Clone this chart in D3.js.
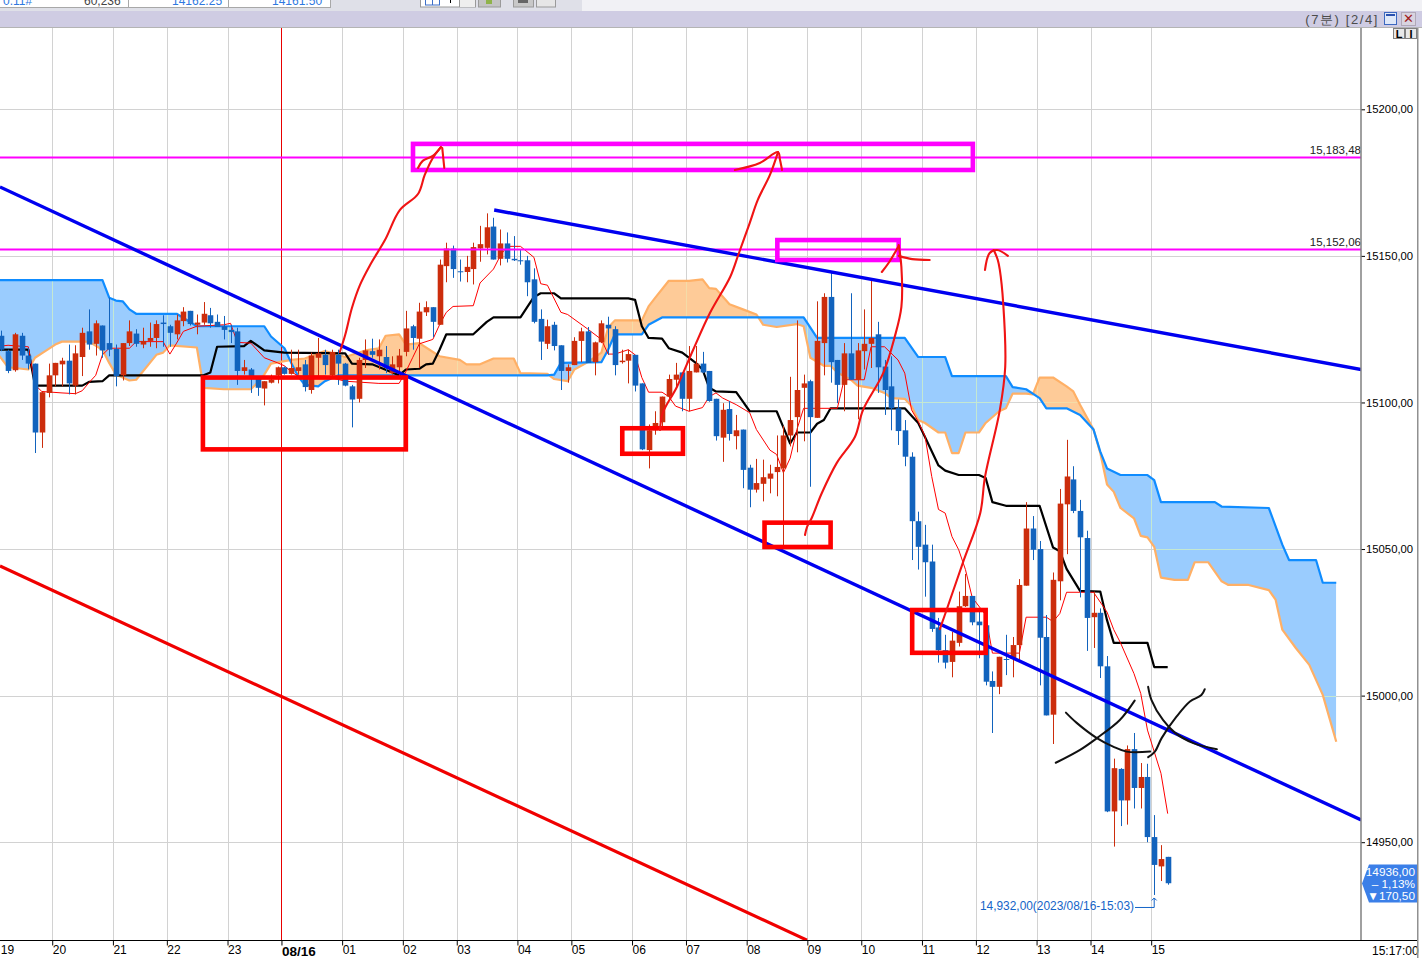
<!DOCTYPE html>
<html><head><meta charset="utf-8">
<script src="https://cdn.jsdelivr.net/npm/d3@7"></script>
<style>html,body{margin:0;padding:0;background:#fff;overflow:hidden}svg{display:block}text{font-family:"Liberation Sans",sans-serif}</style>
</head><body><svg id="c" width="1422" height="958"></svg>
<script>
const opens=[15122.75,15117.5,15111,15122.75,15116,15113.25,15089.75,15103.25,15109.25,15113,15114.25,15105.75,15115.5,15124.25,15120,15126.25,15120.25,15118.25,15109.25,15120.25,15123.5,15119.75,15121,15122,15127.25,15126,15123.25,15127.75,15131.25,15126.5,15127.25,15129.75,15127.5,15126,15124.75,15124.25,15110.75,15111.25,15108,15104.75,15106.75,15109.25,15112,15109.75,15110.75,15113,15104.25,15115.25,15116.25,15109.25,15116.25,15113.25,15105.5,15101.25,15114.5,15117.5,15115.75,15115.5,15110,15112,15117.25,15126,15121.75,15130.75,15132.5,15126.5,15146.5,15152.5,15144.75,15144.5,15145.5,15152.5,15152.75,15160,15149,15154.25,15149,15148.5,15148.5,15142,15128.5,15120,15126.5,15119.5,15110.75,15112.75,15121,15124.25,15113.75,15120.5,15126.5,15125,15113.75,15114.25,15116.25,15106.5,15083.75,15090.5,15093.25,15102,15107.75,15110.25,15101.25,15110.25,15113.25,15110.75,15101.25,15088,15097.75,15088.5,15090.75,15077.75,15070.25,15072.25,15074,15076.25,15077.5,15088.75,15095,15105,15107.25,15094.75,15120.25,15136,15114.5,15106,15116.75,15107.75,15117.5,15120,15123.25,15112.25,15105.5,15098,15090.5,15081.5,15059.5,15051.5,15045.75,15023.25,15015.5,15011.5,15018,15030.5,15034,15025.25,15024,15005,15003,15012.5,15012.5,15017.25,15037.5,15057,15050,15020,14993.5,15039,15065.25,15073.75,15063,15053.75,15026.75,15028.25,15010,14960.5,14975,14964.25,14981.75,14968.5,14972.25,14951.75,14941.75,14945];
const highs=[15124.5,15118,15123.75,15123.75,15118.5,15113.25,15103.75,15113.25,15113.5,15115.25,15119.75,15119.5,15125.5,15131.75,15128,15126.25,15135.75,15119.75,15120.25,15128,15125,15125.5,15127.25,15128,15129.75,15126.5,15130,15132.5,15131.25,15130,15134.25,15132.25,15130,15129.5,15126.5,15125.5,15114.5,15111.75,15109,15107.25,15109.5,15112.25,15112.25,15118,15118,15114.5,15117,15122,15118,15118,15118,15113.5,15106,15115.25,15121.5,15121.75,15121.5,15119.25,15115.75,15118.25,15131.25,15126.5,15134,15134.5,15132.5,15148.75,15154.5,15153.5,15148.75,15150,15154.5,15160.25,15164.5,15163,15159,15158,15156.75,15152.25,15150,15145.75,15131.75,15128.25,15127.5,15119.5,15113,15122.25,15125.5,15125.75,15120.75,15128,15129.25,15126,15118,15118,15116.25,15106.5,15092.5,15097,15102,15109.5,15113.5,15110.25,15119.25,15119.25,15117.25,15110.75,15101.25,15099.75,15100.5,15095.75,15090.75,15078.75,15080.75,15080.5,15078.75,15088.75,15092,15108.75,15128,15109.5,15107.75,15134.5,15137.25,15144.75,15114.5,15120.25,15137.25,15120.25,15131.75,15141.75,15127.5,15114.5,15115.75,15101,15094,15083,15062.75,15058.25,15051.5,15026.5,15020.75,15021.75,15035.5,15041.5,15034,15029.25,15024,15008.25,15013.25,15020.75,15020,15039.75,15066,15061.25,15052.75,15027.5,15042,15070.5,15087.25,15078.25,15066.75,15056.25,15035.5,15029.75,15013.5,14978.5,14975.25,14983,14987.25,14977,14976.75,14959.25,14949,14945];
const lows=[15117.5,15110,15110.5,15114.5,15111.25,15082.75,15084.5,15101.75,15105.5,15105.5,15102.75,15102.75,15109,15118,15116,15115.25,15115.75,15105.5,15107.5,15119.25,15119,15118.5,15119,15118.5,15119,15119,15121.5,15126,15126.25,15123.25,15126.5,15125.5,15125.75,15121.5,15120.25,15106,15109.5,15103.25,15102.25,15099,15106.5,15106.5,15109.5,15109.5,15109.5,15103.75,15103,15109,15109.5,15109,15106,15105.5,15091.5,15100,15111.75,15115.25,15111.25,15110,15109.5,15109,15115.75,15118,15111.75,15129.5,15122.25,15126.5,15141,15142.5,15141.25,15141,15140.25,15148,15150.5,15148.75,15146.75,15147.75,15148.25,15147,15136.25,15127,15114.5,15118.25,15117.75,15104.25,15106.75,15112.75,15113.75,15113.5,15109.25,15120.25,15116.25,15109.25,15113.25,15106.5,15103.75,15083.75,15077.5,15089,15090.75,15101,15105.25,15097,15097,15110.25,15110,15100.25,15087,15079.75,15087,15084,15070.75,15064.25,15069.25,15066.25,15069,15068,15051,15085,15083,15086.75,15071.25,15094.75,15109.25,15106.75,15099.75,15097,15107.75,15094.25,15111.25,15111.75,15103.25,15095.75,15090.5,15085.5,15078.25,15046.25,15043,15033.75,15021.75,15011.25,15009.25,15006.25,15016.75,15030.25,15024,15012.75,15003.5,14987.25,15000.5,15007,15006.25,15012.25,15037.5,15046.25,15003.5,14993.25,14983.5,15032.5,15048.25,15062.25,15033.5,15015.25,15016.25,15006,14960.25,14948.5,14955.5,14956,14961.5,14961.5,14950,14932,14936.75,14935.5];
const closes=[15118,15110.75,15123.25,15116,15113.25,15089.75,15103.5,15109.25,15113.5,15114.25,15106.5,15116.75,15123.75,15119.75,15127,15117.75,15118,15109,15120.25,15124.25,15120,15121,15122,15126.75,15126.75,15123.75,15128,15131,15126.75,15127.25,15130.25,15127,15125.75,15124.75,15124,15110.75,15112,15109,15105,15107.25,15107.75,15112,15109.75,15111.75,15112,15105.25,15116,15116.75,15112.75,15117.25,15113.25,15105.75,15101,15114.5,15117.75,15116.25,15118,15111.75,15113,15116,15125.25,15122,15131,15132.5,15127.5,15147,15152.5,15145.5,15144.5,15146.25,15153,15154,15159.75,15148.75,15154.25,15149,15148.5,15148.25,15141,15127.5,15120.75,15126,15119.25,15110.75,15112,15121,15124.25,15113.5,15120.5,15127,15125.25,15112.75,15114.25,15116.5,15105.75,15084,15090.5,15093,15102,15108,15109.5,15101.25,15110.75,15113.25,15110.25,15100.5,15088.5,15097.5,15089.25,15090.5,15077,15070.25,15072.5,15074.5,15075.75,15078,15088.75,15094,15104.25,15106.5,15095,15121,15136,15113.75,15106,15116.75,15107.75,15117.75,15120,15122,15112,15104.25,15098,15090.25,15081.5,15059.5,15050.75,15045.5,15022.75,15015.5,15011.25,15018.75,15030.5,15034,15025,15024,15004.75,15003,15013.25,15012.25,15017.25,15037.75,15057,15049.75,15019.75,14993.25,15039.5,15065.5,15074.75,15063,15054,15026.5,15028.25,15010,14960.5,14975.25,14964.25,14981.75,14968.5,14972.25,14951.75,14942.25,14944.25,14936];

const kijunBars=[-1,4,5,12,13,15,16,30,31,32,36,37,39,42,51,52,55,58,59,60,62,63,64,65,66,70,72,73,77,79,80,82,83,93,94,95,96,98,99,101,103,104,105,106,109,110,111,115,116,117,118,120,121,122,123,134,135,136,137,139,140,142,145,146,147,149,154,156,157,158,160,163,164,165,170,171,173];
const kijunValues=[15118,15118,15105.75,15105.75,15107,15107.25,15109.25,15109.25,15110.25,15119,15119.25,15121,15117.75,15117,15116.75,15113.25,15113,15110.25,15109.25,15111.25,15111.5,15113,15113.25,15118,15123.25,15123.25,15127.5,15129,15129,15136,15137.25,15137.25,15135.5,15135.5,15135,15126,15122,15121.75,15118.5,15117,15113.5,15111.25,15105,15103.75,15103.5,15100.25,15097,15097,15091.5,15086,15089.75,15089.75,15092.75,15094,15098,15098,15095.5,15093,15088.25,15078.5,15076.75,15075.25,15075.25,15074.25,15066,15064.75,15064.75,15050.5,15049.25,15043.25,15035.75,15035.5,15025.75,15018,15018,15009.75,15009.75];
const tenkanBars=[-1,1,4,5,6,9,11,12,13,14,15,16,19,20,24,25,26,27,29,33,34,35,37,39,41,42,43,44,48,51,56,59,60,61,62,64,65,66,67,70,71,73,74,75,77,79,80,81,83,84,87,89,90,91,93,94,95,96,98,99,100,102,104,105,106,107,109,111,112,114,115,116,117,118,119,124,125,128,129,131,133,134,135,136,137,138,139,140,141,142,143,144,146,147,151,152,155,156,157,158,162,164,165,166,168,169,170,172,173];
const tenkanValues=[15119,15119.5,15119,15106,15103.75,15103.25,15103,15104,15106.75,15109.25,15116.25,15118.5,15118.5,15120.75,15120.75,15116.5,15120.25,15124.25,15126,15126.5,15127,15120.5,15120.25,15115.25,15113.5,15112.5,15110.5,15109,15109,15107.25,15106.5,15106.5,15110.5,15115.25,15120,15121.5,15126.5,15130.75,15132.75,15133,15140.75,15145.5,15150,15153.25,15153.25,15149.5,15140.5,15140,15130.75,15130,15125,15121.5,15116.5,15116.5,15118,15116.25,15108.5,15103.5,15103.5,15102,15098.75,15097,15098.25,15102,15103.25,15101.5,15099.25,15096.5,15090.75,15083.75,15082.25,15076,15081,15090.75,15098,15098,15107.75,15107.75,15119,15119,15114.5,15110,15097.5,15093.5,15088.5,15074.75,15063.5,15062.25,15054.25,15049.75,15043,15033.5,15027.5,15014.5,15014.5,15026.75,15026.75,15025.25,15028,15035.25,15035.25,15028.5,15022.5,15018,15007.5,15000.75,14988.25,14973.5,14959.75];
const spanABars=[-1,15,16,17,18,19,20,26,29,39,40,42,43,44,45,47,48,50,81,82,83,89,90,91,95,96,98,119,121,134,136,140,141,149,150,152,154,155,158,160,162,163,164,166,170,171,172,180,181,188,190,191,195,196,198];
const spanAValues=[15141.75,15141.75,15135.75,15134.75,15134.5,15131.75,15130.25,15130.25,15126,15126,15122.5,15118.5,15113.5,15109,15106,15105.5,15107.25,15109.25,15109.25,15109.5,15113.5,15113.75,15118,15123.25,15123.25,15126.5,15129,15129,15122,15122,15115.5,15115.5,15109,15109,15105.25,15104.5,15101.5,15098,15098,15095.75,15090.75,15083.25,15077.5,15075.25,15075.25,15073.5,15066,15066,15064.5,15064,15051.5,15046.25,15046.25,15038.5,15038.5];
const spanBBars=[-1,1,4,5,6,8,9,13,15,16,17,19,20,23,24,25,29,30,33,37,38,39,40,43,45,48,51,54,56,57,59,60,62,65,68,69,71,73,76,77,81,82,84,85,87,89,90,91,95,96,97,99,102,104,105,106,108,110,112,113,115,118,119,120,122,123,124,126,127,129,131,132,134,135,136,137,139,140,141,142,143,145,146,148,149,150,152,153,154,156,158,159,160,162,163,164,165,166,168,169,170,171,172,174,176,177,179,181,182,185,188,189,190,192,194,196,198];
const spanBValues=[15118,15112,15111.25,15115.25,15116.75,15119.75,15120.75,15120.75,15118,15113.5,15109.5,15107.5,15107.75,15116.25,15117,15119.5,15118.75,15105,15104.5,15104.5,15106.75,15109.5,15113.25,15114.5,15115,15117.5,15115.5,15117.75,15118.5,15122.75,15123.25,15119.75,15120.25,15115.75,15114.5,15113,15113,15115,15115,15110,15109.75,15108,15107.25,15111.25,15113.75,15117,15125.5,15128,15128,15132.75,15135.75,15141.5,15141.5,15142,15139,15138.75,15133.5,15131.75,15130,15126.5,15125.75,15126.75,15126,15115.25,15112.5,15112.5,15110.25,15107.75,15105.75,15105,15103.25,15101.5,15101.25,15098.75,15094,15093,15089.75,15089.75,15082.75,15082.75,15089.75,15089.75,15093,15097,15098,15103,15103,15102.75,15108.5,15108.5,15105.5,15103.75,15099.25,15090.75,15082.75,15072,15069.5,15064,15060.5,15054.5,15054,15050.75,15040.25,15039.5,15039.5,15045.5,15045.5,15039,15037.75,15037.75,15036,15032.75,15022.5,15016.25,15010.5,15000.25,14984.25];

const priceTicks=[15200,15150,15100,15050,15000,14950];
const timeTickBars=[0,8,17,25,34,42,51,60,68,77,85,94,102,111,120,128,137,145,154,162,171];
const timeTickLabels=["19","20","21","22","23","08/16","01","02","03","04","05","06","07","08","09","10","11","12","13","14","15"];
const levelValues=[15183.48,15152.06];
const levelLabels=["15,183,48","15,152,06"];
const lastClose=14936, lastLow=14932;

// trendlines as [bar, price] endpoints
const blueTrends=[[[-0.2,15173.5],[201.7,14957.6]],[[73.1,15165.65],[201.7,15111.25]]];
const redTrend=[[-0.2,15044.2],[119.5,14916.6]];
// boxes as [bar0, bar1, priceTop, priceBottom]
const redBoxes=[[29.9,60,15108.5,15084],[92.1,101.1,15091.2,15082.5],[113.2,123,15059,15050.7],[135.1,146,15029.2,15014.6]];
const magentaBoxes=[[61.06,144.1,15188.2,15179.3],[115.1,133.1,15155.4,15148.6]];
// hand-drawn pen strokes as [bar, price]
const redPen=[
[[50.2,15117.2],[51,15123],[52,15132.2],[53.2,15140.1],[54.7,15146.9],[56.9,15155.4],[59.1,15165.6],[61.8,15171.1],[62.8,15177.6],[64,15183.4],[65.2,15187.1]],
[[61.8,15180],[62.5,15182.4],[64,15184.1],[65.2,15187.1]],
[[65.4,15186.8],[65.7,15180]],
[[97.7,15090.6],[98.1,15096.4],[100.2,15105.3],[102.6,15117.9],[105.1,15130.5],[108.1,15142.8],[109.3,15150.3],[111,15161.2],[112.2,15169.1],[114,15177.6],[115.2,15185.4]],
[[108.8,15179.3],[112.5,15181.7],[115.2,15185.4],[115.5,15182.7],[115.8,15179.3]],
[[119.2,15054.8],[119.5,15057.5],[120.2,15060.6],[121.7,15069.1],[123.9,15079.3],[126.6,15088.2],[127.8,15097.4],[130.8,15110],[132.5,15122.3],[133.5,15132.6],[133.5,15146.2],[133.1,15153.7]],
[[130.6,15144.5],[131.7,15147.9],[133.1,15153.4]],
[[133.1,15150],[135.1,15148.9],[137.7,15148.6]],
[[139.2,15022.7],[140.2,15029.2],[142.6,15045.2],[145.2,15062.3],[145.9,15074.6],[148.1,15097.4],[148.9,15112.1],[148.6,15133.9],[148.1,15145.2],[147.8,15148.6],[147.2,15152]],
[[145.9,15145.2],[146.6,15151],[147.7,15152],[149.3,15150]]
];
const blackPen=[
[[157.9,14994.2],[159.5,14990.7],[162.5,14985.5],[164.9,14982.6],[166.9,14980.9],[170.4,14980.9]],
[[156.4,14977.1],[160,14981.5],[162.5,14985.5],[165.9,14991.7],[168.1,14998.3]],
[[170.1,15003],[170.6,14998.5],[172.3,14991.7],[174.1,14987.3],[176.8,14983.8],[180.3,14981.7]],
[[170.1,14979],[171.1,14980.9],[172.1,14985.5],[174.3,14992.8],[176.3,14998],[178,15000.2],[178.5,15002.2]]
];

const W=1422,H=958,plotR=1361,plotT=27,plotB=940;
const x=d3.scaleLinear().domain([0,173]).range([1.33,1167.7]);
const y=d3.scaleLinear().domain([15200,14950]).range([109.3,842.2]);
const svg=d3.select("#c");
const defs=svg.append("defs");
defs.append("clipPath").attr("id","plot").append("rect").attr("x",0).attr("y",plotT).attr("width",plotR).attr("height",plotB-plotT);
const zipS=(b,v)=>b.map((d,i)=>[d,v[i]]);
const spanA=zipS(spanABars,spanAValues), spanB=zipS(spanBBars,spanBValues);
const areaTo=(lim)=>d3.area().x(d=>x(d[0])).y0(d=>y(d[1])).y1(lim);
[["belowA",spanA,plotB],["aboveA",spanA,plotT],["belowB",spanB,plotB],["aboveB",spanB,plotT]].forEach(([id,pts,lim])=>{
  defs.append("clipPath").attr("id",id).append("path").attr("d",areaTo(lim)(pts));
});
const gridX=timeTickBars.map(b=>Math.round(x(b-0.45))+0.5).filter(v=>v>0);
function drawGrid(sel,color){
  const g=sel.append("g").attr("stroke",color).attr("stroke-width",1);
  g.selectAll("line.h").data(priceTicks).join("line").attr("x1",0).attr("x2",plotR).attr("y1",d=>Math.round(y(d))+0.5).attr("y2",d=>Math.round(y(d))+0.5);
  g.selectAll("line.v").data(gridX).join("line").attr("x1",d=>d).attr("x2",d=>d).attr("y1",plotT).attr("y2",plotB);
}
svg.append("rect").attr("width",W).attr("height",H).attr("fill","#fff");
drawGrid(svg.append("g"),"#d2d2d2");
// cloud
function cloud(c1,c2,fill,gridColor){
  const g=svg.append("g").attr("clip-path",`url(#${c1})`).append("g").attr("clip-path",`url(#${c2})`);
  g.append("rect").attr("x",0).attr("y",plotT).attr("width",plotR).attr("height",plotB-plotT).attr("fill",fill);
  drawGrid(g,gridColor);
}
cloud("belowA","aboveB","#9accfe","#c4e8d2");
cloud("belowB","aboveA","#fecb98","#f4dca8");
// cursor line
svg.append("line").attr("x1",281.5).attr("x2",281.5).attr("y1",plotT).attr("y2",plotB).attr("stroke","#e80000").attr("stroke-width",1);
const plot=svg.append("g").attr("clip-path","url(#plot)");
const line=d3.line().x(d=>x(d[0])).y(d=>y(d[1]));
const addLine=(pts,color,w)=>plot.append("path").attr("d",line(pts)).attr("fill","none").attr("stroke",color).attr("stroke-width",w).attr("stroke-linejoin","round");
addLine(spanB,"#ffb066",2.2);
addLine(spanA,"#0f8cff",2.2);
addLine(zipS(kijunBars,kijunValues),"#000",2.2);
addLine(zipS(tenkanBars,tenkanValues),"#f00",1);
// candles
const idx=d3.range(opens.length);
const colorOf=i=>closes[i]>=opens[i]?"#cc2d0c":"#1263bd";
plot.selectAll("line.wick").data(idx).join("line").attr("class","wick")
 .attr("x1",i=>Math.round(x(i))+0.5).attr("x2",i=>Math.round(x(i))+0.5)
 .attr("y1",i=>y(highs[i])).attr("y2",i=>y(lows[i])).attr("stroke",colorOf).attr("stroke-width",1);
plot.selectAll("rect.body").data(idx).join("rect").attr("class","body")
 .attr("x",i=>Math.round(x(i))-2.3).attr("width",5.6)
 .attr("y",i=>Math.min(y(opens[i]),y(closes[i])))
 .attr("height",i=>Math.max(1,Math.abs(y(opens[i])-y(closes[i]))))
 .attr("fill",colorOf);
// level lines
levelValues.forEach((v,i)=>{
  const yy=Math.round(y(v))-0.5;
  plot.append("line").attr("x1",0).attr("x2",plotR).attr("y1",yy).attr("y2",yy).attr("stroke","#ff00ff").attr("stroke-width",2);
  svg.append("text").attr("x",plotR).attr("y",yy-3.5).attr("text-anchor","end").attr("font-size",11.5).attr("fill","#222").text(levelLabels[i]);
});
// trend lines
blueTrends.forEach(t=>addLine(t,"#0000f0",3.4));
addLine(redTrend,"#f00000",3.2);
// boxes
const box=(b,c,w)=>plot.append("rect").attr("x",x(b[0])).attr("width",x(b[1])-x(b[0])).attr("y",y(b[2])).attr("height",y(b[3])-y(b[2])).attr("fill","none").attr("stroke",c).attr("stroke-width",w);
redBoxes.forEach(b=>box(b,"#ff0000",4.6));
magentaBoxes.forEach(b=>box(b,"#ff00ff",4.6));
// pen strokes
const pen=d3.line().x(d=>x(d[0])).y(d=>y(d[1])).curve(d3.curveCatmullRom);
const addPen=(pts,c,w)=>plot.append("path").attr("d",pen(pts)).attr("fill","none").attr("stroke",c).attr("stroke-width",w).attr("stroke-linecap","round");
redPen.forEach(p=>addPen(p,"#f01414",2.1));
blackPen.forEach(p=>addPen(p,"#111",2));
// axes
const yAxis=d3.axisRight(y).tickValues(priceTicks).tickSize(4).tickPadding(1).tickFormat(d=>d+",00");
const ya=svg.append("g").attr("transform",`translate(${plotR},0)`).call(yAxis);
ya.select(".domain").remove();
ya.selectAll("text").attr("font-size",11.3).attr("font-family","Liberation Sans").attr("fill","#000");
ya.selectAll("line").attr("stroke","#000");
svg.append("line").attr("x1",plotR).attr("x2",plotR).attr("y1",plotT).attr("y2",plotB).attr("stroke","#808080").attr("stroke-width",1.5);
const xAxis=d3.axisBottom(x).tickValues(timeTickBars.map(b=>b-0.45)).tickSize(5).tickFormat((d,i)=>timeTickLabels[i]);
const xa=svg.append("g").attr("transform",`translate(0,${plotB+0.5})`).call(xAxis);
xa.select(".domain").remove();
xa.selectAll("line").attr("stroke","#000");
xa.selectAll("text").attr("text-anchor","start").attr("dx",(d,i)=>i===0?2:0).attr("y",3).attr("dy","0.9em").attr("font-family","Liberation Sans").attr("fill","#000")
 .attr("font-size",(d,i)=>timeTickLabels[i]==="08/16"?13.5:12)
 .attr("font-weight",(d,i)=>timeTickLabels[i]==="08/16"?"bold":"normal");
svg.append("line").attr("x1",0).attr("x2",1418).attr("y1",plotB+0.5).attr("y2",plotB+0.5).attr("stroke","#000");
svg.append("text").attr("x",1372).attr("y",955).attr("font-size",12).attr("fill","#000").text("15:17:00");
// last-price tag
const tagY=Math.round(y(lastClose))+0.5;
svg.append("polygon").attr("points",[[1362,tagY],[1369,tagY-19],[1417,tagY-19],[1417,tagY+19],[1369,tagY+19]].join(" ")).attr("fill","#3b7fe8");
[["14936,00",-8],["– 1,13%",4],["▼170,50",16]].forEach(([t,d])=>svg.append("text").attr("x",1415).attr("y",tagY+d).attr("text-anchor","end").attr("font-size",11.8).attr("fill","#fff").text(t));
// low note
const ly=y(lastLow);
svg.append("text").attr("x",1134).attr("y",ly+15.5).attr("text-anchor","end").attr("font-size",11.9).attr("fill","#1464c8").text("14,932,00(2023/08/16-15:03)");
svg.append("path").attr("d",`M1135,${ly+12.5}H${x(171)}V${ly+3}M${x(171)-2.5},${ly+5.5}L${x(171)},${ly+3}L${x(171)+2.5},${ly+5.5}`).attr("fill","none").attr("stroke","#1464c8");
// window chrome
const chrome=svg.append("g");
chrome.append("rect").attr("width",W).attr("height",11).attr("fill","#dfe0e8");
chrome.append("rect").attr("x",582).attr("width",W-582).attr("height",11).attr("fill","#f1f1f5");
chrome.append("rect").attr("width",330).attr("height",8).attr("fill","#fff");
chrome.append("rect").attr("y",7).attr("width",330).attr("height",1).attr("fill","#a8a8a8");
[128,228,330].forEach(v=>chrome.append("rect").attr("x",v).attr("width",1).attr("height",8).attr("fill","#a8a8a8"));
[["0.11#",3,"#2f78e0"],["60,236",84,"#444"],["14162.25",172,"#2f78e0"],["14161.50",272,"#2f78e0"]].forEach(([t,xx,c])=>chrome.append("text").attr("x",xx).attr("y",5).attr("font-size",12).attr("fill",c).text(t));
chrome.append("rect").attr("x",420.5).attr("y",-1).attr("width",55).attr("height",8).attr("fill","#fff").attr("stroke","#9a9a9a");
chrome.append("rect").attr("x",459).attr("y",0).attr("width",16).attr("height",7).attr("fill","#eeeeee");
chrome.append("rect").attr("x",459).attr("y",0).attr("width",1).attr("height",7).attr("fill","#9a9a9a");
chrome.append("rect").attr("x",425.5).attr("y",-1).attr("width",14).attr("height",6).attr("fill","none").attr("stroke","#3c6fc8");
chrome.append("rect").attr("x",432).attr("y",0).attr("width",1).attr("height",5).attr("fill","#3c6fc8");
chrome.append("rect").attr("x",450).attr("y",0).attr("width",1).attr("height",3).attr("fill","#000");
[[478,22,"#c4c4c4"],[513,20,"#c8c8c8"],[536,19,"#e6e6e6"]].forEach(([xx,w,c])=>chrome.append("rect").attr("x",xx+0.5).attr("y",-1).attr("width",w).attr("height",8).attr("fill",c).attr("stroke","#9a9a9a"));
chrome.append("rect").attr("x",486).attr("y",0).attr("width",6).attr("height",4).attr("fill","#8fb34a");
chrome.append("rect").attr("x",518).attr("y",0).attr("width",10).attr("height",3).attr("fill","#666");
chrome.append("rect").attr("y",11).attr("width",W).attr("height",16).attr("fill","#cfcce3");
chrome.append("rect").attr("y",27).attr("width",W).attr("height",1).attr("fill","#b4b4b4");
chrome.append("text").attr("x",1379).attr("y",23.5).attr("text-anchor","end").attr("font-size",13).attr("font-family","Noto Sans CJK KR").attr("fill","#4c4c4c").attr("letter-spacing",1.6).text("(7분) [2/4]");
chrome.append("rect").attr("x",1384.5).attr("y",12.5).attr("width",12).attr("height",12).attr("fill","#dfe8f8").attr("stroke","#3c68c0");
chrome.append("rect").attr("x",1386).attr("y",14).attr("width",9).attr("height",2).attr("fill","#2a50b0");
chrome.append("rect").attr("x",1401.5).attr("y",12.5).attr("width",14).attr("height",13).attr("fill","#d8d4e0").attr("stroke","#b0a8b8");
chrome.append("text").attr("x",1408.5).attr("y",23).attr("text-anchor","middle").attr("font-size",13).attr("fill","#a02020").text("✕");
[[1393,"L"],[1405,"I"]].forEach(([xx,t])=>{
  chrome.append("rect").attr("x",xx+0.5).attr("y",28.5).attr("width",11).attr("height",10).attr("fill","#e8e8e8").attr("stroke","#808080");
  chrome.append("text").attr("x",xx+6).attr("y",37.5).attr("text-anchor","middle").attr("font-size",11).attr("font-weight","bold").attr("fill","#000").text(t);
});
chrome.append("rect").attr("x",1417).attr("y",28).attr("width",1.5).attr("height",H-28).attr("fill","#909090");
</script></body></html>
